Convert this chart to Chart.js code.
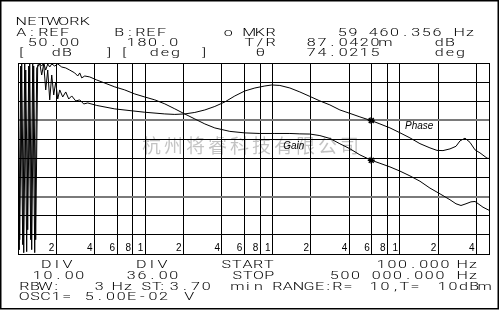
<!DOCTYPE html>
<html lang="en">
<head>
<meta charset="UTF-8">
<title>Network analyzer - gain / phase</title>
<script src="https://cdn.jsdelivr.net/npm/chart.js"></script>
<style>
  html, body { margin: 0; padding: 0; background: #fff; }
  #wrap { width: 500px; height: 310px; }
</style>
</head>
<body>
<div id="wrap"><canvas id="bode" width="500" height="310"></canvas></div>
<script>
// frequency grid lines (Hz) and the digit printed in the bottom row
const tickFreqs = [100, 200, 400, 600, 800, 1000, 2000, 4000, 6000, 8000, 10000,
  20000, 40000, 60000, 80000, 100000, 200000, 400000, 500000];
const tickLabels = ['', '2', '4', '6', '8', '1', '2', '4', '6', '8', '1',
  '2', '4', '6', '8', '1', '2', '4', ''];

// gain trace (dB, 10 dB/div, ref 50)
const gainFreq = [100, 102.2, 105, 108.9, 112.9, 117, 121.4, 125.8, 130.5, 135.3, 140.3,
  148.1, 153.5, 159.2, 165.1, 171.2, 177.5, 184, 194.3, 205.1, 220.5, 237.1, 254.9,
  279, 294.6, 305.4, 316.7, 334.4, 366.1, 415.4, 480.1, 575.3, 689.5, 826.2, 990.1,
  1186, 1422, 1704, 2042, 2447, 2933, 3514, 4610, 6048, 7934, 10406, 13652, 16360,
  19606, 23496, 28151, 33741, 40437, 48448, 59460, 69578, 83370, 99910, 119717,
  143494, 171926, 206043, 246910, 275270, 301300, 329900, 361000, 388200, 417400,
  448700, 500000];
const gainDb = [46.3, -47.8, 48.4, -45.1, 49.5, -48.8, 48.4, -42.5, 49.5, -49.3, 47.4,
  49.5, 48.4, 50, 46.3, 49.5, 47.9, 49.5, 48.4, 49.5, 47.9, 47.4, 46.3,
  44.8, 43.2, 44.8, 42.2, 43.2, 42.7, 41.1, 39.5, 37.5, 35.9, 33.8, 32.2,
  30.7, 28.6, 26.0, 23.3, 20.7, 18.1, 16.0, 14.2, 13.4, 13.1, 13.1, 13.1, 12.9,
  12.8, 12.0, 10.5, 7.7, 5.1, 1.9, -0.9, -2.5, -4.4, -6.6, -9.1,
  -11.9, -15.5, -18.5, -21.6, -23.7, -24.6, -23.7, -22.7, -22.5, -24.0,
  -25.5, -27.1];

// phase trace (deg, 36 deg/div, ref 180)
const phaseFreq = [100, 103.1, 106.9, 110.9, 115, 119.2, 123.6, 128.1, 132.8, 137.7, 142.8,
  148.1, 153.5, 159.2, 165.1, 171.2, 177.5, 184, 190.8, 197.8, 205.1, 212.7, 224.5,
  237.1, 250.3, 264.2, 284.1, 305.4, 328.4, 353, 415.4, 575.3, 796.9, 990.1, 1422,
  1704, 2042, 2447, 2933, 3514, 4211, 5046, 6048, 7247, 8686, 9856, 11391, 13652,
  16360, 19606, 23496, 28151, 33741, 40437, 48448, 59460, 69578, 83370, 99910,
  119717, 143494, 171926, 195180, 217530, 246910, 275270, 295890, 324000, 354560,
  388200, 424890, 482800, 500000];
const phaseDeg = [176.2, -153.1, 180, -177.6, 166.8, -134.3, 178.1, -171.9, 174.4, -153.1, 176.2,
  180, 157.4, 178.1, 129.2, 166.8, 110.4, 157.4, 119.8, 144.2, 112.2, 129.2, 116.0,
  125.4, 112.2, 117.9, 108.5, 110.4, 102.8, 104.7, 100.0, 93.5, 89.7, 87.2, 84.0,
  83.1, 84.0, 86.8, 91.5, 98.1, 106.6, 117.9, 127.3, 132.9, 136.7, 138.6, 137.7, 132.9,
  125.4, 117.0, 108.5, 101.0, 91.5, 85.0, 78.4, 71.4, 65.2, 57.7, 48.5,
  38.9, 28.0, 20.0, 15.3, 14.9, 18.1, 23.0, 33.2, 38.3, 30.4,
  16.3, 10.6, 0.6, 0.1];

// marker (MKR 59 460.356 Hz)
const markerFreq = [59460];
const markerGain = [-0.9];
const markerPhase = [71.4];

// screen font: fixed character cells like the analyzer's plotter text
const SCREEN_FONT = '300 11.5px Roboto';
const ADV = 10.6;   // cell advance
const SX = 1.4;     // horizontal stretch of each glyph

// instrument annotation text: [text, x of first cell, baseline]
const screenText = [
  ['NETWORK', 17, 25],
  ['A:', 17, 35.5], ['REF', 39, 35.5], ['B:', 115, 35.5], ['REF', 136, 35.5],
  ['o', 224, 35.5], ['MKR', 245, 35.5], ['59', 338, 35.5], ['460.356', 369, 35.5], ['Hz', 455, 35.5],
  ['50.00', 28, 46], ['180.0', 127, 46], ['T/R', 245, 46], ['87.0420m', 307, 46], ['dB', 435, 46],
  ['[', 17, 56], ['dB', 52, 56], [']', 105, 56], ['[', 120, 56], ['deg', 150, 56], [']', 200, 56],
  ['\u03b8', 256, 56], ['74.0215', 307, 56], ['deg', 435, 56],
  ['DIV', 42, 268], ['DIV', 137, 268], ['START', 222, 268], ['100.000', 377, 268], ['Hz', 458, 268],
  ['10.00', 33, 278.5], ['36.00', 127, 278.5], ['STOP', 233, 278.5], ['500', 330, 278.5],
  ['000.000', 372, 278.5], ['Hz', 458, 278.5],
  ['RBW:', 20, 289.5], ['3', 95, 289.5], ['Hz', 113, 289.5], ['ST', 142, 289.5], [':', 158, 289.5],
  ['3.70', 170, 289.5], ['min', 233, 289.5], ['RANGE', 273, 289.5], [':', 324, 289.5],
  ['R=', 333, 289.5], ['10,', 370, 289.5], ['T=', 400, 289.5], ['10dBm', 438, 289.5],
  ['OSC1=', 20, 300], ['5.00E-02', 85, 300], ['V', 185, 300]
];

function drawCells(ctx, text, x, y) {
  [...text].forEach((ch, i) => {
    ctx.save();
    ctx.translate(x + i * ADV + 4.3, y);
    ctx.scale(SX, 1);
    ctx.fillText(ch, 0, 0);
    ctx.restore();
  });
}

const analyzerDecor = {
  id: 'analyzerDecor',
  beforeDatasetsDraw(chart) {
    const { ctx, chartArea } = chart;
    ctx.save();
    ctx.font = '19px "Noto Sans CJK SC"';
    ctx.letterSpacing = '3px';
    ctx.fillStyle = 'rgba(0,0,0,0.24)';
    ctx.textAlign = 'center';
    ctx.textBaseline = 'middle';
    ctx.fillText('杭州将睿科技有限公司', 252, 146);
    ctx.restore();

    // digits in the bottom row
    const xs = chart.scales.x;
    ctx.save();
    ctx.font = '10px "Liberation Sans"';
    ctx.fillStyle = '#000';
    ctx.textAlign = 'right';
    ctx.textBaseline = 'alphabetic';
    tickFreqs.forEach((f, i) => {
      if (!tickLabels[i]) return;
      ctx.fillText(tickLabels[i], xs.getPixelForValue(f) - 2, chartArea.bottom - 3.5);
    });
    ctx.restore();
  },
  afterDatasetsDraw(chart) {
    const { ctx } = chart;
    const xs = chart.scales.x, ys = chart.scales.y;
    ctx.save();
    ctx.font = 'italic 10px "Liberation Sans"';
    ctx.fillStyle = '#000';
    ctx.fillText('Phase', xs.getPixelForValue(109400), ys.getPixelForValue(15.5));
    ctx.fillText('Gain', xs.getPixelForValue(12090), ys.getPixelForValue(5.0));
    ctx.restore();
  },
  afterDraw(chart) {
    const { ctx } = chart;
    ctx.save();
    ctx.fillStyle = '#000';
    ctx.font = SCREEN_FONT;
    ctx.textAlign = 'center';
    ctx.textBaseline = 'alphabetic';
    screenText.forEach(([t, x, y]) => drawCells(ctx, t, x, y));
    ctx.lineWidth = 1.5;
    ctx.strokeStyle = '#000';
    ctx.strokeRect(0.75, 0.75, 497.5, 308);
    ctx.restore();
  }
};

new Chart(document.getElementById('bode'), {
  type: 'line',
  data: {
    datasets: [{
      label: 'Gain',
      data: gainFreq.map((f, i) => ({ x: f, y: gainDb[i] })),
      yAxisID: 'y',
      borderColor: '#000',
      borderWidth: 1,
      pointRadius: 0,
      tension: 0
    }, {
      label: 'Phase',
      data: phaseFreq.map((f, i) => ({ x: f, y: phaseDeg[i] })),
      yAxisID: 'y2',
      borderColor: '#000',
      borderWidth: 1,
      pointRadius: 0,
      tension: 0
    }, {
      label: 'Marker gain',
      data: markerFreq.map((f, i) => ({ x: f, y: markerGain[i] })),
      yAxisID: 'y',
      showLine: false,
      pointStyle: 'star',
      pointRadius: 3.5,
      borderColor: '#000',
      borderWidth: 1.5
    }, {
      label: 'Marker phase',
      data: markerFreq.map((f, i) => ({ x: f, y: markerPhase[i] })),
      yAxisID: 'y2',
      showLine: false,
      pointStyle: 'star',
      pointRadius: 3.5,
      borderColor: '#000',
      borderWidth: 1.5
    }]
  },
  options: {
    responsive: false,
    animation: false,
    devicePixelRatio: 1,
    layout: { padding: { left: 18, top: 63, right: 11, bottom: 56 } },
    plugins: { legend: { display: false }, tooltip: { enabled: false } },
    scales: {
      x: {
        type: 'logarithmic',
        min: 100,
        max: 500000,
        afterBuildTicks: (scale) => { scale.ticks = tickFreqs.map(v => ({ value: v })); },
        ticks: { display: false },
        grid: { color: '#000', lineWidth: 1, drawTicks: false },
        border: { display: true, color: '#000', width: 1 }
      },
      y: {
        min: -50,
        max: 50,
        ticks: { display: false, stepSize: 10 },
        grid: {
          drawTicks: false,
          color: (c) => (c.index === 3 || c.index === 7) ? '#7a7a7a' : '#000',
          lineWidth: (c) => (c.index === 3 || c.index === 7) ? 2 : 1
        },
        border: { display: true, color: '#000', width: 1 }
      },
      y2: {
        display: false,
        min: -180,
        max: 180
      }
    }
  },
  plugins: [analyzerDecor]
});
</script>
</body>
</html>
